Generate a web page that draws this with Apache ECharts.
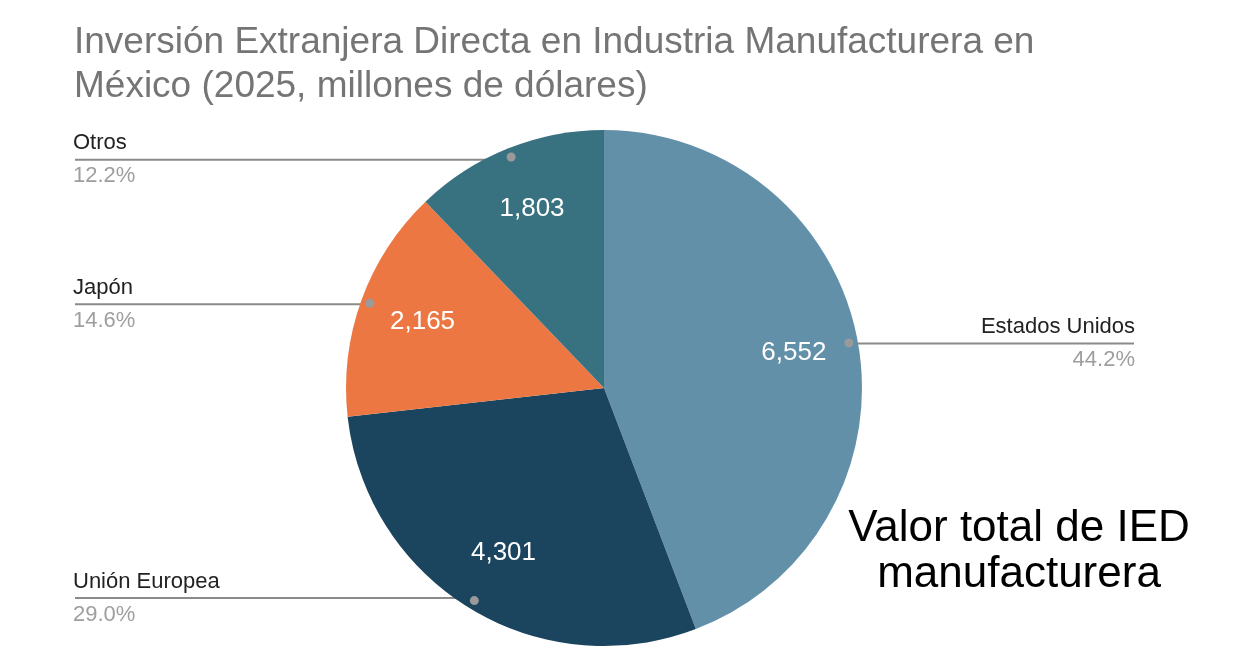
<!DOCTYPE html>
<html>
<head>
<meta charset="utf-8">
<style>
  html, body { margin: 0; padding: 0; background: #fff; }
  #main { width: 1238px; height: 664px; }
</style>
<script src="https://cdn.jsdelivr.net/npm/echarts@6/dist/echarts.min.js"></script>
</head>
<body>
<div id="main"></div>
<script>
var regiones = ['Estados Unidos', 'Unión Europea', 'Japón', 'Otros'];
var montos = [6552, 4301, 2165, 1803];
var colores = ['#6390A9', '#1B445E', '#EC7742', '#387280'];

var fuente = '"Liberation Sans", Arial, sans-serif';
var centro = [604, 388];

function datos(extra){
    return regiones.map(function(n, i){
        var d = {name: n, value: montos[i]};
        if (extra) extra(d, i);
        return d;
    });
}

var myChart = echarts.init(document.getElementById('main'));
var option = {
    animation: false,
    title: {
        text: 'Inversión Extranjera Directa en Industria Manufacturera en\nMéxico (2025, millones de dólares)',
        left: 69,
        top: 16,
        textStyle: {
            fontFamily: fuente,
            fontSize: 37,
            fontWeight: 'normal',
            color: '#757575',
            lineHeight: 44
        }
    },
    graphic: [{
        type: 'text',
        x: 1019,
        y: 506,
        style: {
            text: 'Valor total de IED\nmanufacturera',
            font: '44px ' + fuente,
            fill: '#000',
            align: 'center',
            verticalAlign: 'top',
            lineHeight: 46
        }
    }],
    series: [
        {
            // tarta visible
            type: 'pie',
            center: centro,
            radius: [0, 258],
            silent: true,
            label: {show: false},
            labelLine: {show: false},
            data: datos(function(d, i){ d.itemStyle = {color: colores[i]}; })
        },
        {
            // valores dentro de cada sector
            type: 'pie',
            center: centro,
            radius: [122, 258],
            silent: true,
            itemStyle: {color: 'transparent'},
            label: {
                show: true,
                position: 'inside',
                color: '#fff',
                fontFamily: fuente,
                fontSize: 26,
                formatter: function(p){ return p.value.toLocaleString('en-US'); }
            },
            labelLine: {show: false},
            data: datos()
        },
        {
            // nombres y porcentajes con línea guía
            type: 'pie',
            center: centro,
            radius: [0, 246],
            silent: true,
            itemStyle: {color: 'transparent'},
            label: {
                show: true,
                position: 'outside',
                alignTo: 'edge',
                edgeDistance: 73,
                distanceToLabelLine: 0,
                formatter: function(p){
                    return '{n|' + p.name + '}\n{p|' + p.percent.toFixed(1) + '%}';
                },
                rich: {
                    n: {fontFamily: fuente, fontSize: 22, color: '#222', lineHeight: 33},
                    p: {fontFamily: fuente, fontSize: 22, color: '#9e9e9e', lineHeight: 33}
                }
            },
            labelLine: {
                show: true,
                length: 0.01,
                length2: 10,
                lineStyle: {color: '#8a8a8a', width: 2}
            },
            labelLayout: function(params){
                var pts = params.labelLinePoints;
                var r = params.labelRect;
                if (!pts) return {};
                var inicio = pts[0];
                var izq = r.x < inicio[0];
                var fin = izq ? r.x + 2 : r.x + r.width - 1;
                return {labelLinePoints: [inicio, [fin, inicio[1]]]};
            },
            data: datos(function(d, i){
                if (i === 0) d.label = {edgeDistance: 103};
            })
        },
        {
            // puntos al inicio de la línea guía
            type: 'pie',
            center: centro,
            radius: [239, 253],
            silent: true,
            itemStyle: {color: 'transparent'},
            label: {
                show: true,
                position: 'inside',
                formatter: '{dot|}',
                rich: {
                    dot: {width: 9, height: 9, borderRadius: 4.5, backgroundColor: '#9a9a9a'}
                }
            },
            labelLine: {show: false},
            data: datos()
        }
    ]
};
myChart.setOption(option);
</script>
</body>
</html>
